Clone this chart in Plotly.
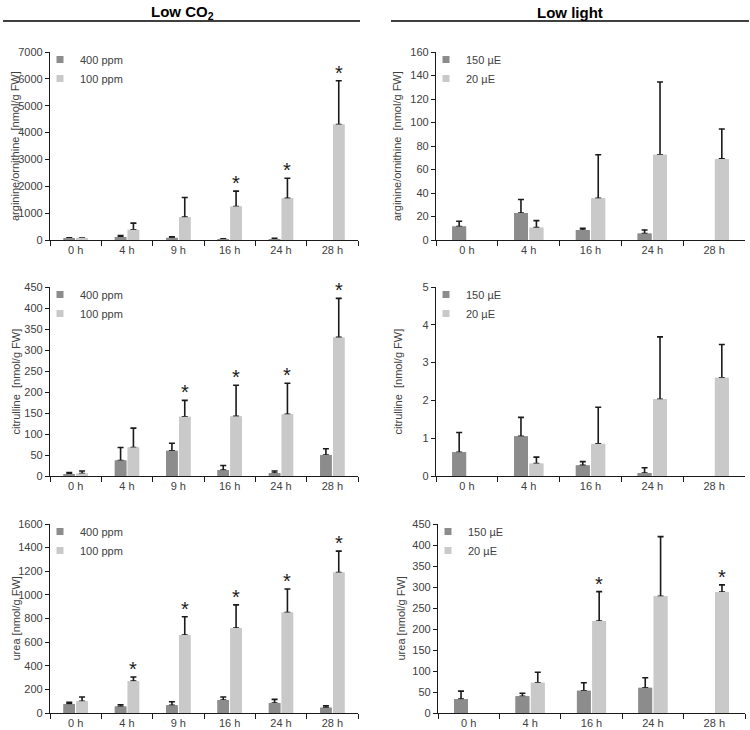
import plotly.graph_objects as go

# ---------------- data ----------------
co2_times = ["0 h", "4 h", "9 h", "16 h", "24 h", "28 h"]
light_times = ["0 h", "4 h", "16 h", "24 h", "28 h"]
co2_groups = ["400 ppm", "100 ppm"]
light_groups = ["150 µE", "20 µE"]

# arginine/ornithine, low CO2
argorn_400 = [50, 110, 80, 30, 30, None]
argorn_400_sd = [30, 60, 40, 15, 35, 0]
argorn_100 = [40, 380, 850, 1250, 1550, 4300]
argorn_100_sd = [30, 250, 730, 570, 750, 1630]
argorn_co2_sig = ["16 h", "24 h", "28 h"]

# arginine/ornithine, low light
argorn_150 = [11.5, 23, 8.5, 5.5, None]
argorn_150_sd = [4.5, 11.5, 1.5, 3, 0]
argorn_20 = [None, 10.5, 35.5, 72.5, 69]
argorn_20_sd = [0, 6, 37, 62, 25.5]
argorn_light_sig = []

# citrulline, low CO2
citr_400 = [4, 37, 60, 14, 7, 50]
citr_400_sd = [4, 31, 18, 11, 5, 15]
citr_100 = [6, 68, 141, 142, 147, 330]
citr_100_sd = [6, 46, 39, 74, 74, 93]
citr_co2_sig = ["9 h", "16 h", "24 h", "28 h"]

# citrulline, low light
citr_150 = [0.63, 1.05, 0.28, 0.08, None]
citr_150_sd = [0.52, 0.5, 0.1, 0.14, 0]
citr_20 = [None, 0.33, 0.85, 2.03, 2.6]
citr_20_sd = [0, 0.17, 0.97, 1.65, 0.88]
citr_light_sig = []

# urea, low CO2
urea_400 = [75, 55, 65, 110, 85, 45]
urea_400_sd = [15, 15, 30, 25, 30, 15]
urea_100 = [100, 270, 660, 720, 850, 1190]
urea_100_sd = [35, 35, 155, 195, 200, 180]
urea_co2_sig = ["4 h", "9 h", "16 h", "24 h", "28 h"]

# urea, low light
urea_150 = [33, 40, 53, 60, None]
urea_150_sd = [19, 7, 19, 24, 0]
urea_20 = [None, 72, 219, 278, 288]
urea_20_sd = [0, 25, 70, 142, 17]
urea_light_sig = ["16 h", "28 h"]

y_titles = ["arginine/ornithine  [nmol/g FW]", "citrulline  [nmol/g FW]", "urea [nmol/g FW]"]

# ---------------- styling / layout ----------------
W, H = 750, 730
DARK = "#8c8c8c"
LIGHT = "#c9c9c9"
TXT = "#404040"
FONT = "Liberation Sans, Arial, sans-serif"

def px_x(p):
    return p / W

def px_y(p):
    return 1 - p / H

panels = [
    dict(cats=co2_times, names=co2_groups, vals=(argorn_400, argorn_100), sds=(argorn_400_sd, argorn_100_sd),
         sig=argorn_co2_sig, ymax=7000, dtick=1000, title=y_titles[0], xpx=(50, 358), ypx=(52, 240), tx=15),
    dict(cats=light_times, names=light_groups, vals=(argorn_150, argorn_20), sds=(argorn_150_sd, argorn_20_sd),
         sig=argorn_light_sig, ymax=160, dtick=20, title=y_titles[0], xpx=(436, 745), ypx=(52, 240), tx=397),
    dict(cats=co2_times, names=co2_groups, vals=(citr_400, citr_100), sds=(citr_400_sd, citr_100_sd),
         sig=citr_co2_sig, ymax=450, dtick=50, title=y_titles[1], xpx=(50, 358), ypx=(287, 476), tx=15),
    dict(cats=light_times, names=light_groups, vals=(citr_150, citr_20), sds=(citr_150_sd, citr_20_sd),
         sig=citr_light_sig, ymax=5, dtick=1, title=y_titles[1], xpx=(436, 745), ypx=(287, 476), tx=397),
    dict(cats=co2_times, names=co2_groups, vals=(urea_400, urea_100), sds=(urea_400_sd, urea_100_sd),
         sig=urea_co2_sig, ymax=1600, dtick=200, title=y_titles[2], xpx=(50, 358), ypx=(524, 713), tx=15),
    dict(cats=light_times, names=light_groups, vals=(urea_150, urea_20), sds=(urea_150_sd, urea_20_sd),
         sig=urea_light_sig, ymax=450, dtick=50, title=y_titles[2], xpx=(438, 745), ypx=(524, 713), tx=400),
]

fig = go.Figure()
annotations = []
layout_extra = {}

for k, p in enumerate(panels, start=1):
    xa = "x" if k == 1 else f"x{k}"
    ya = "y" if k == 1 else f"y{k}"
    leg = "legend" if k == 1 else f"legend{k}"
    colors = (DARK, LIGHT)
    for g in range(2):
        vals = p["vals"][g]
        sds = p["sds"][g]
        # bar with error bars (upper only)
        fig.add_trace(go.Bar(
            x=p["cats"], y=vals, xaxis=xa, yaxis=ya,
            marker=dict(color=colors[g], line=dict(width=0)),
            alignmentgroup=f"p{k}", offsetgroup=f"p{k}g{g}",
            error_y=dict(type="data", array=sds, arrayminus=[0] * len(sds), symmetric=False,
                         color="#1a1a1a", thickness=1.6, width=3),
            showlegend=False, hoverinfo="skip",
        ))
        # same bar drawn again on top to hide the lower cap of the error bar
        fig.add_trace(go.Bar(
            x=p["cats"], y=vals, xaxis=xa, yaxis=ya,
            marker=dict(color=colors[g], line=dict(width=0)),
            alignmentgroup=f"p{k}", offsetgroup=f"p{k}g{g}",
            showlegend=False, name=p["names"][g],
        ))
        # legend entry (small square)
        fig.add_trace(go.Scatter(
            x=[None], y=[None], xaxis=xa, yaxis=ya, mode="markers",
            marker=dict(symbol="square", size=7, color=colors[g]),
            name=p["names"][g], legend=leg, showlegend=True,
        ))
    # significance asterisks
    for t in p["sig"]:
        i = p["cats"].index(t)
        top = p["vals"][1][i] + p["sds"][1][i]
        annotations.append(dict(
            x=i + 0.125, y=top, xref=xa, yref=ya, text="*", showarrow=False,
            xanchor="center", yanchor="middle", yshift=8,
            font=dict(size=20, color="#1a1a1a", family=FONT),
        ))
    # y-axis title
    annotations.append(dict(
        x=px_x(p["tx"]), y=px_y((p["ypx"][0] + p["ypx"][1]) / 2), xref="paper", yref="paper",
        text=p["title"], textangle=-90, showarrow=False, xanchor="center", yanchor="middle",
        font=dict(size=11, color=TXT, family=FONT),
    ))
    xkey = "xaxis" if k == 1 else f"xaxis{k}"
    ykey = "yaxis" if k == 1 else f"yaxis{k}"
    layout_extra[xkey] = dict(
        domain=[px_x(p["xpx"][0]), px_x(p["xpx"][1])], anchor=ya,
        type="category", categoryorder="array", categoryarray=p["cats"],
        showline=True, linecolor="#1a1a1a", linewidth=1.3,
        ticks="outside", tickson="boundaries", ticklen=5, tickwidth=1.3, tickcolor="#1a1a1a",
        tickfont=dict(size=11, color=TXT, family=FONT), showgrid=False, zeroline=False,
        fixedrange=True, automargin=False,
    )
    layout_extra[ykey] = dict(
        domain=[px_y(p["ypx"][1]), px_y(p["ypx"][0])], anchor=xa,
        range=[0, p["ymax"]], dtick=p["dtick"], tick0=0,
        showline=True, linecolor="#1a1a1a", linewidth=1.3,
        ticks="outside", ticklen=4, tickwidth=1.3, tickcolor="#1a1a1a",
        tickfont=dict(size=11, color=TXT, family=FONT), showgrid=False, zeroline=False,
        fixedrange=True, automargin=False,
    )
    layout_extra[leg] = dict(
        x=px_x(p["xpx"][0] - 10), y=px_y(p["ypx"][0] - 7), xanchor="left", yanchor="top",
        bgcolor="rgba(0,0,0,0)", font=dict(size=11, color=TXT, family=FONT),
        itemwidth=30, tracegroupgap=0, traceorder="normal",
    )

# column headers
annotations.append(dict(x=px_x(182), y=px_y(12), xref="paper", yref="paper", text="<b>Low CO<sub>2</sub></b>",
                        xanchor="center", yanchor="middle", showarrow=False,
                        font=dict(size=15, color="#000000", family=FONT)))
annotations.append(dict(x=px_x(570), y=px_y(12), xref="paper", yref="paper", text="<b>Low light</b>",
                        xanchor="center", yanchor="middle", showarrow=False,
                        font=dict(size=15, color="#000000", family=FONT)))
shapes = [
    dict(type="line", xref="paper", yref="paper", x0=px_x(3), x1=px_x(360), y0=px_y(21), y1=px_y(21),
         line=dict(color="#000000", width=1.5)),
    dict(type="line", xref="paper", yref="paper", x0=px_x(391), x1=px_x(749), y0=px_y(21), y1=px_y(21),
         line=dict(color="#000000", width=1.5)),
]

fig.update_layout(
    width=W, height=H, margin=dict(l=0, r=0, t=0, b=0, autoexpand=False),
    paper_bgcolor="white", plot_bgcolor="white",
    barmode="group", bargap=0.5, bargroupgap=0.1,
    annotations=annotations, shapes=shapes,
    font=dict(family=FONT, color=TXT, size=11),
    hovermode=False,
    **layout_extra,
)

fig.write_html(
    "out.html",
    config={"displayModeBar": False, "staticPlot": False},
    post_script="document.body.style.margin='0';document.body.style.overflow='hidden';",
)
